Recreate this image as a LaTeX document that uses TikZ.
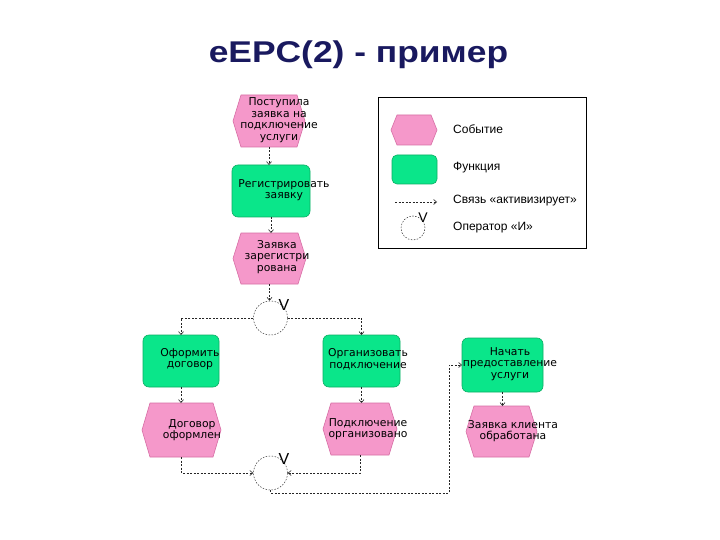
\documentclass[tikz,border=0pt]{standalone}
\usepackage{fontspec}
\setmainfont{DejaVu Sans}
\newfontfamily\lib{Liberation Sans}
\usetikzlibrary{arrows.meta,calc}
\definecolor{evfill}{RGB}{245,152,202}
\definecolor{evline}{RGB}{215,110,165}
\definecolor{fnfill}{RGB}{10,230,138}
\definecolor{fnline}{RGB}{10,175,100}
\definecolor{navy}{RGB}{25,25,95}
\tikzset{
  box/.style={inner sep=0pt, outer sep=0pt},
  fn/.style={box, rounded corners=6pt, fill=fnfill, draw=fnline, line width=0.6pt},
  lbl/.style={font=\fontsize{10.8}{11.5}\selectfont, align=center, inner sep=0pt},
  conn/.style={draw=black!85, line width=0.6pt, dash pattern=on 2pt off 1.5pt, -{Straight Barb[length=3pt,width=5pt]}},
  op/.style={circle, draw=black!80, line width=0.5pt, dash pattern=on 1.5pt off 1.5pt, inner sep=0pt},
  vlab/.style={font=\lib\fontsize{16}{16}\selectfont, inner sep=0pt},
  leg/.style={font=\lib\fontsize{12}{14}\selectfont, anchor=west, inner sep=0pt},
}
% name, cx, cy, w, h, chamfer
\newcommand\evt[6]{%
  \node[box, minimum width=#4pt, minimum height=#5pt] (#1) at (#2,#3) {};
  \filldraw[fill=evfill, draw=evline, line width=0.6pt] (#1.west) -- ($(#1.north west)+(#6pt,0)$) -- ($(#1.north east)+(-#6pt,0)$) -- (#1.east) -- ($(#1.south east)+(-#6pt,0)$) -- ($(#1.south west)+(#6pt,0)$) -- cycle;}
\begin{document}
\begin{tikzpicture}[x=1pt,y=-1pt]
\useasboundingbox[fill=white] (0,0) rectangle (720,540);
% title
\node[font=\lib\bfseries\fontsize{30}{32}\selectfont, text=navy, anchor=base, inner sep=0pt, xscale=1.18] (title) at (358.5,63) {eEPC(2) - пример};
% events and functions
\evt{e1}{269}{121}{72}{52}{8}
\node[fn, minimum width=78pt, minimum height=52pt] (f1) at (271,191) {};
\evt{e2}{269.5}{258.5}{73}{51}{8}
\node[op, minimum size=34pt] (op1) at (270.5,318) {};
\node[fn, minimum width=76pt, minimum height=52pt] (f2) at (181,361) {};
\node[fn, minimum width=77pt, minimum height=52pt] (f3) at (361.5,361) {};
\evt{e3}{181.5}{430}{79}{54}{8}
\evt{e4}{360}{429}{74}{52}{8}
\node[op, minimum size=34pt] (op2) at (270.5,473) {};
\node[fn, minimum width=81pt, minimum height=54pt] (f4) at (502.5,365) {};
\evt{e5}{501.5}{431.5}{71}{51}{8}
% operator labels
\node[vlab] (v1) at (284,305) {V};
\node[vlab] (v2) at (284,459) {V};
% texts
\node[lbl] (t1) at (279,120) {Поступила\\заявка на\\подключение\\услуги};
\node[lbl] (t2) at (284,190) {Регистрировать\\заявку};
\node[lbl] (t3) at (277,257) {Заявка\\зарегистри\\рована};
\node[lbl] (t4) at (190,359) {Оформить\\договор};
\node[lbl] (t5) at (368,359) {Организовать\\подключение};
\node[lbl] (t6) at (192,430) {Договор\\оформлен};
\node[lbl] (t7) at (368,429) {Подключение\\организовано};
\node[lbl] (t8) at (510,364) {Начать\\предоставление\\услуги};
\node[lbl] (t9) at (513,431) {Заявка клиента\\обработана};
% connectors
\draw[conn] (e1.south) -- (e1.south |- f1.north);
\draw[conn] (f1.south) -- (f1.south |- e2.north);
\draw[conn] (e2.south) -- (e2.south |- op1.north);
\draw[conn] (op1.west) -| (f2.north);
\draw[conn] (op1.east) -| (f3.north);
\draw[conn] (f2.south) -- (f2.south |- e3.north);
\draw[conn] (f3.south) -- (f3.south |- e4.north);
\draw[conn] (e3.south) |- (op2.west);
\draw[conn] (e4.south) |- (op2.east);
\coordinate (c1) at (449,493);
\draw[conn] (op2.south) |- (c1) |- (f4.west);
\draw[conn] (f4.south) -- (f4.south |- e5.north);
% legend
\node[box, draw=black, line width=0.8pt, minimum width=208pt, minimum height=151pt] (leg) at (482,172.5) {};
\evt{le}{414}{130}{46}{30}{6}
\node[fn, rounded corners=5pt, minimum width=45pt, minimum height=29pt] (lf) at (414.5,169.5) {};
\coordinate (la1) at (395,202);
\coordinate (la2) at (437,202);
\draw[conn] (la1) -- (la2);
\node[op, minimum size=24pt] (lop) at (413,228) {};
\node[vlab, font=\lib\fontsize{14}{14}\selectfont] (lv) at (423,218) {V};
\node[leg] (l1) at (453,129) {Событие};
\node[leg] (l2) at (453,168) {Функция};
\node[leg] (l3) at (453,201) {Связь «активизирует»};
\node[leg] (l4) at (453,228) {Оператор «И»};
\end{tikzpicture}
\end{document}
